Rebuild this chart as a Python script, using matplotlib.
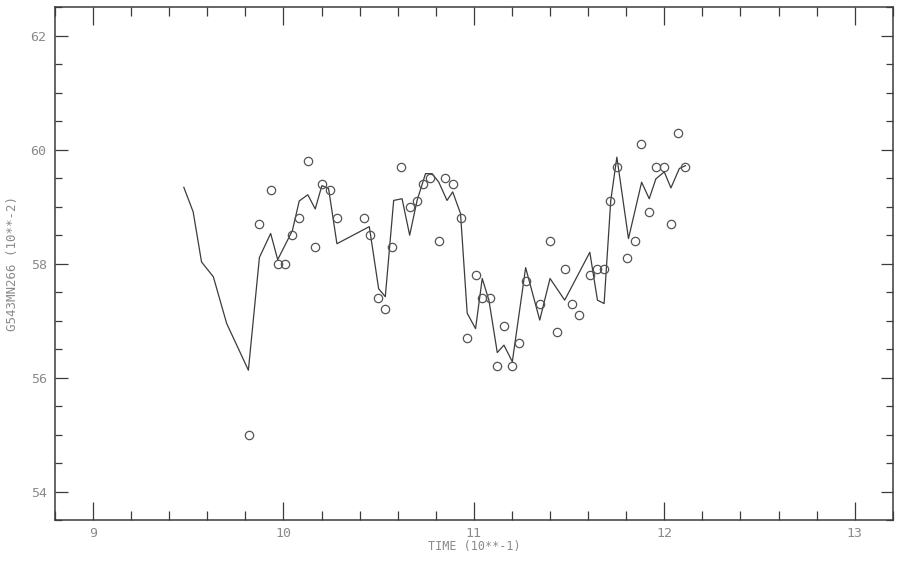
import numpy as np
import matplotlib
matplotlib.use('Agg')
import matplotlib.pyplot as plt
from matplotlib.ticker import MultipleLocator

## fitted line (time, value)
line_t = [9.477, 9.526, 9.570, 9.632, 9.702, 9.816, 9.874, 9.933, 9.970, 10.047,
          10.083, 10.128, 10.167, 10.202, 10.237, 10.281, 10.451, 10.500, 10.535, 10.579,
          10.623, 10.663, 10.702, 10.746, 10.781, 10.816, 10.859, 10.889, 10.930, 10.965,
          11.009, 11.044, 11.079, 11.123, 11.158, 11.202, 11.272, 11.346, 11.400, 11.477,
          11.609, 11.649, 11.684, 11.719, 11.751, 11.812, 11.881, 11.921, 11.956, 12.000,
          12.035, 12.079, 12.111]
line_y = [59.34, 58.91, 58.03, 57.77, 56.95, 56.13, 58.11, 58.53, 58.07, 58.58,
          59.10, 59.21, 58.96, 59.37, 59.32, 58.35, 58.65, 57.56, 57.42, 59.11,
          59.14, 58.50, 59.11, 59.58, 59.58, 59.43, 59.11, 59.26, 58.88, 57.13,
          56.86, 57.74, 57.36, 56.44, 56.57, 56.28, 57.93, 57.01, 57.74, 57.36,
          58.20, 57.36, 57.30, 59.11, 59.87, 58.44, 59.43, 59.14, 59.49, 59.61,
          59.33, 59.67, 59.72]

## observed points (circles)
obs_t = [9.819, 9.874, 9.933, 9.970, 10.009, 10.047, 10.084, 10.128, 10.167, 10.202,
         10.242, 10.283, 10.421, 10.456, 10.496, 10.535, 10.570, 10.619, 10.663, 10.702,
         10.733, 10.768, 10.816, 10.851, 10.889, 10.930, 10.965, 11.009, 11.044, 11.084,
         11.123, 11.158, 11.202, 11.237, 11.272, 11.346, 11.400, 11.438, 11.477, 11.514,
         11.553, 11.609, 11.649, 11.684, 11.716, 11.751, 11.802, 11.846, 11.877, 11.921,
         11.956, 12.000, 12.035, 12.070, 12.111]
obs_y = [55.0, 58.7, 59.3, 58.0, 58.0, 58.5, 58.8, 59.8, 58.3, 59.4,
         59.3, 58.8, 58.8, 58.5, 57.4, 57.2, 58.3, 59.7, 59.0, 59.1,
         59.4, 59.5, 58.4, 59.5, 59.4, 58.8, 56.7, 57.8, 57.4, 57.4,
         56.2, 56.9, 56.2, 56.6, 57.7, 57.3, 58.4, 56.8, 57.9, 57.3,
         57.1, 57.8, 57.9, 57.9, 59.1, 59.7, 58.1, 58.4, 60.1, 58.9,
         59.7, 59.7, 58.7, 60.3, 59.7]

txt_color = '#8a8a8a'
ink = '#3c3c3c'

fig = plt.figure(figsize=(9, 5.61), dpi=100)
fig.set_facecolor('white')
ax = fig.add_axes([0.061, 0.073, 0.931, 0.914])

# line + circles
ax.plot(line_t, line_y, color=ink, lw=0.9)
ax.plot(obs_t, obs_y, 'o', ms=6, mfc='none', mec='#555555', mew=0.9)

ax.set_xlim(8.8, 13.2)
ax.set_ylim(53.5, 62.5)

# ticks (inward, all four sides)
ax.xaxis.set_major_locator(MultipleLocator(1))
ax.xaxis.set_minor_locator(MultipleLocator(0.2))
ax.yaxis.set_major_locator(MultipleLocator(2))
ax.yaxis.set_minor_locator(MultipleLocator(0.5))
ax.tick_params(axis='both', which='both', direction='in', top=True, right=True,
               color=ink, width=0.9, labelcolor=txt_color, labelsize=9.5)
ax.tick_params(axis='x', which='major', length=13, pad=5)
ax.tick_params(axis='x', which='minor', length=6.5)
ax.tick_params(axis='y', which='major', length=9, pad=6)
ax.tick_params(axis='y', which='minor', length=5)

for lab in ax.get_xticklabels() + ax.get_yticklabels():
    lab.set_family('DejaVu Sans Mono')

for sp in ax.spines.values():
    sp.set_color(ink)
    sp.set_linewidth(1.1)

ax.set_xlabel('TIME (10**-1)', color=txt_color, fontsize=8.5,
              family='DejaVu Sans Mono', labelpad=0)
ax.set_ylabel('G543MN266 (10**-2)', color=txt_color, fontsize=9,
              family='DejaVu Sans Mono', labelpad=8)

fig.savefig('out.png', dpi=100, facecolor='white')
plt.close()
